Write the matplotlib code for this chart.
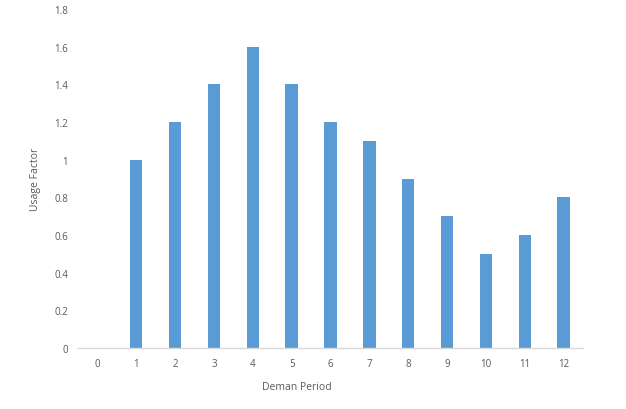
import matplotlib
matplotlib.use("Agg")
import matplotlib.pyplot as plt
import numpy as np

periods = [0, 1, 2, 3, 4, 5, 6, 7, 8, 9, 10, 11, 12]
usage = [0, 1.0, 1.2, 1.4, 1.6, 1.4, 1.2, 1.1, 0.9, 0.7, 0.5, 0.6, 0.8]
yticks = [0, 0.2, 0.4, 0.6, 0.8, 1, 1.2, 1.4, 1.6, 1.8]
ytick_labels = ["0", "0.2", "0.4", "0.6", "0.8", "1", "1.2", "1.4", "1.6", "1.8"]

text_col = "#595959"
plt.rcParams["font.family"] = ["Open Sans", "DejaVu Sans"]

fig = plt.figure(figsize=(6.26, 4.10), dpi=100)
ax = fig.add_axes([78 / 626, 1 - 349 / 410, (583 - 78) / 626, (349 - 10) / 410])

x = np.arange(len(periods))
ax.bar(x, usage, width=0.32, color="#5B9BD5")

ax.set_xlim(-0.5, len(periods) - 0.5)
ax.set_ylim(0, 1.8)
ax.set_xticks(x)
ax.set_xticklabels([str(p) for p in periods])
ax.set_yticks(yticks)
ax.set_yticklabels(ytick_labels)

for s in ["top", "right", "left"]:
    ax.spines[s].set_visible(False)
ax.spines["bottom"].set_color("#D9D9D9")
ax.spines["bottom"].set_linewidth(1)
ax.tick_params(length=0, labelsize=7, colors=text_col)
ax.tick_params(axis="x", pad=7)
ax.tick_params(axis="y", pad=7)

ax.set_xlabel("Deman Period", fontsize=7.5, color=text_col)
ax.xaxis.set_label_coords(0.434, -0.097)
ax.set_ylabel("Usage Factor", fontsize=7.5, color=text_col, labelpad=10)

fig.savefig("out.png", dpi=100)
plt.close(fig)
